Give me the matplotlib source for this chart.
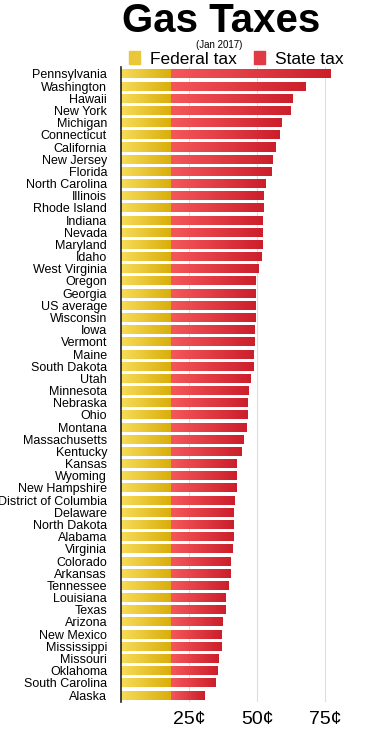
import numpy as np
import matplotlib.pyplot as plt
from matplotlib.patches import Patch
from matplotlib.colors import LinearSegmentedColormap

plt.rcParams['font.family'] = ['Liberation Sans', 'DejaVu Sans']

states = ["Pennsylvania", "Washington", "Hawaii", "New York", "Michigan",
          "Connecticut", "California", "New Jersey", "Florida", "North Carolina",
          "Illinois", "Rhode Island", "Indiana", "Nevada", "Maryland", "Idaho",
          "West Virginia", "Oregon", "Georgia", "US average", "Wisconsin", "Iowa",
          "Vermont", "Maine", "South Dakota", "Utah", "Minnesota", "Nebraska",
          "Ohio", "Montana", "Massachusetts", "Kentucky", "Kansas", "Wyoming",
          "New Hampshire", "District of Columbia", "Delaware", "North Dakota",
          "Alabama", "Virginia", "Colorado", "Arkansas", "Tennessee", "Louisiana",
          "Texas", "Arizona", "New Mexico", "Mississippi", "Missouri", "Oklahoma",
          "South Carolina", "Alaska"]
federal = 18.4
total = [77.0, 68.0, 63.0, 62.5, 59.2, 58.3, 56.7, 55.9, 55.4, 53.3,
         52.5, 52.5, 52.1, 52.1, 52.1, 51.7, 50.7, 49.5, 49.5, 49.5, 49.5, 49.0,
         49.0, 48.6, 48.6, 47.8, 46.9, 46.6, 46.6, 46.2, 45.2, 44.4, 42.6, 42.6,
         42.3, 41.9, 41.4, 41.4, 41.4, 40.9, 40.4, 40.1, 39.7, 38.4,
         38.4, 37.5, 37.0, 37.0, 35.8, 35.4, 34.9, 30.8]
state_tax = [t - federal for t in total]

fed_cmap = LinearSegmentedColormap.from_list("fed", ["#f7dc58", "#d9ad0c"])
st_cmap = LinearSegmentedColormap.from_list("st", ["#f4575a", "#cc1f2c"])

fig = plt.figure(figsize=(3.66, 7.29), dpi=100)
ax = fig.add_axes([0.3306, 0.0366, 0.6257, 0.872])

y = np.arange(len(states))
fed_bars = ax.barh(y, [federal] * len(states), height=0.74, color="none")
st_bars = ax.barh(y, state_tax, left=federal, height=0.74, color="none")

# gradient fill clipped to each bar
grad = np.linspace(0, 1, 64).reshape(1, -1)
for bars, cmap in [(fed_bars, fed_cmap), (st_bars, st_cmap)]:
    for p in bars:
        x0, y0 = p.get_x(), p.get_y()
        w, h = p.get_width(), p.get_height()
        im = ax.imshow(grad, cmap=cmap, aspect="auto",
                       extent=(x0, x0 + w, y0 + h, y0), zorder=2)
        im.set_clip_path(p)

ax.set_xlim(0, 84.2)
ax.set_ylim(len(states) - 0.4, -0.6)
ax.set_yticks(y)
ax.set_yticklabels(states, fontsize=9)
ax.set_xticks([25, 50, 75])
ax.set_xticklabels(["25¢", "50¢", "75¢"], fontsize=14)
ax.tick_params(axis="y", length=0, pad=10)
ax.tick_params(axis="x", length=0, pad=6)
ax.grid(axis="x", color="#dddddd", linewidth=0.8, zorder=0)
ax.set_axisbelow(True)
for s in ["top", "right", "bottom"]:
    ax.spines[s].set_visible(False)
ax.spines["left"].set_linewidth(1.2)
ax.spines["left"].set_color("#222222")

fig.text(0.605, 0.9715, "Gas Taxes", ha="center", va="center",
         fontsize=29, fontweight="bold")
fig.text(0.6, 0.9385, "(Jan 2017)", ha="center", va="center", fontsize=7)

handles = [Patch(color="#e9c63a", label="Federal tax"),
           Patch(color="#e23a44", label="State tax")]
fig.legend(handles=handles, loc="center", bbox_to_anchor=(0.645, 0.919),
           ncol=2, frameon=False, fontsize=12.5, handlelength=0.65,
           handleheight=0.75, handletextpad=0.55, columnspacing=1.0,
           borderpad=0)

fig.savefig("out.png", dpi=100)
